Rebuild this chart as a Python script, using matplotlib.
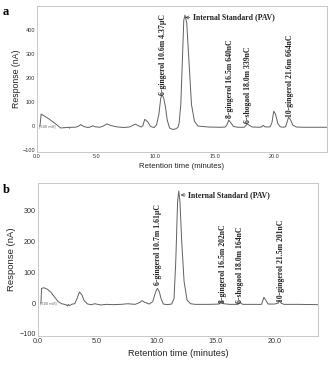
import matplotlib.pyplot as plt

# chromatogram (a): retention time (min) and response (nA)
time_a = [0.25, 0.35, 1.0, 1.6, 2.0, 2.5, 2.7, 2.75, 2.8, 3.2, 3.45, 3.7, 3.95, 4.3, 4.5, 4.7, 4.9,
          5.3, 5.6, 5.9, 6.2, 6.7, 7.3, 7.8, 8.1, 8.3, 8.55, 8.8, 8.95, 9.1, 9.35, 9.6, 9.9,
          10.1, 10.3, 10.45, 10.55, 10.7, 10.85, 11.0, 11.2, 11.45, 11.7, 11.9, 12.0, 12.15,
          12.3, 12.4, 12.5, 12.65, 12.85, 13.05, 13.3, 13.6, 14.5, 15.5, 15.9, 16.05, 16.2,
          16.4, 16.6, 17.0, 17.5, 17.65, 17.75, 17.9, 18.2, 18.8, 19.0, 19.1, 19.25, 19.5,
          19.7, 19.85, 20.0, 20.15, 20.35, 20.55, 20.8, 21.0, 21.15, 21.25, 21.4, 21.6, 21.9,
          22.5, 23.5, 24.5]
resp_a = [0, 50, 30, 8, -8, -6, -5, -9, -5, -5, -2, 6, -2, -6, -4, 1, -3,
          -5, 0, 9, 3, -3, -6, -4, 3, 8, 2, -4, 2, 28, 18, -2, -6,
          5, 50, 115, 130, 118, 80, 25, -8, -14, -12, -6, 10, 90,
          300, 440, 462, 430, 260, 90, 20, 0, -4, -5, -4, 5, 25,
          12, -2, -5, -5, 2, 10, 4, -4, -5, -3, 3, -3, -4,
          -3, 15, 62, 50, 10, -3, -5, -3, 20, 37, 28, 5, -4,
          -5, -5, -5]

# chromatogram (b)
time_b = [0.25, 0.3, 0.5, 0.8, 1.1, 1.4, 1.7, 2.0, 2.35, 2.5, 2.55, 2.65, 2.9, 3.1, 3.3, 3.5,
          3.7, 3.9, 4.2, 4.5, 4.8, 5.3, 5.8, 6.3, 7.0, 7.6, 8.2, 8.6, 8.8, 9.0, 9.4, 9.7, 9.85,
          10.0, 10.1, 10.25, 10.4, 10.6, 10.9, 11.3, 11.5, 11.65, 11.8, 11.9, 12.0, 12.15,
          12.35, 12.6, 12.9, 13.3, 14.5, 15.3, 15.45, 15.55, 15.7, 16.2, 16.9, 17.1, 17.3,
          18.0, 18.9, 19.0, 19.1, 19.25, 19.45, 20.0, 20.3, 20.4, 20.55, 20.8, 22.0, 23.7]
resp_b = [0, 48, 50, 45, 35, 20, 5, -2, -5, -9, -4, -8, -3, -2, 15, 36,
          28, 8, -3, -5, -2, -6, -4, -5, -4, -2, -4, 2, 8, 3, -3, 5, 25,
          42, 48, 38, 15, -3, -5, -3, 15, 140, 330, 365, 330, 200,
          70, 10, -2, -4, -4, -3, 2, 6, -2, -4, -4, 2, -4,
          -4, -4, 8, 19, 10, -3, -3, 0, 8, 0, -4, -4, -5]

# peak labels: (text, x, y) in data units
labels_a = ['6-gingerol 10.6m 4.37\u03bcC', '8-gingerol 16.5m 640nC',
            '6-shogaol 18.0m 339nC', '10-gingerol 21.6m 664nC']
label_x_a = [10.67, 16.3, 17.8, 21.37]
label_y_a = [128, 32, 14, 38]

labels_b = ['6-gingerol 10.7m 1.61\u03bcC', '8-gingerol 16.5m 202nC',
            '6-shogaol 18.0m 164nC', '10-gingerol 21.5m 201nC']
label_x_b = [10.15, 15.6, 17.1, 20.5]
label_y_b = [60, 2, 2, 5]

yticks_a = [-100, 0, 100, 200, 300, 400]
yticks_b = [-100, 0, 100, 200, 300]
xticks = [0, 5, 10, 15, 20]
xtick_labels = ['0.0', '5.0', '10.0', '15.0', '20.0']

pav_text = 'Internal Standard (PAV)'

line_col = '#606060'
frame_col = '#c8c8c8'
serif = ['Liberation Serif', 'DejaVu Serif']
sans = ['Liberation Sans', 'DejaVu Sans']

fig = plt.figure(figsize=(3.35, 3.67), dpi=100)

def draw_panel(ax, t, r, xmax, ylim, yticks, labels, lx, ly, pav_xy, pav_txt,
               tick_fs, xlab_fs, ylab_fs, ylab_pad):
    ax.plot(t, r, color=line_col, lw=0.7)
    ax.set_xlim(0, xmax)
    ax.set_ylim(*ylim)
    ax.set_xticks(xticks)
    ax.set_xticklabels(xtick_labels)
    ax.set_yticks(yticks)
    for s in ax.spines.values():
        s.set_color(frame_col)
        s.set_linewidth(0.7)
    ax.tick_params(length=0, labelsize=tick_fs, pad=1.5, colors='#333333')
    for lbl in ax.get_xticklabels() + ax.get_yticklabels():
        lbl.set_family(sans)
    ax.set_xlabel('Retention time (minutes)', fontsize=xlab_fs, family=sans, labelpad=3, color='#222222')
    ax.set_ylabel('Response (nA)', fontsize=ylab_fs, family=sans, labelpad=ylab_pad, color='#222222')
    for txt, x, y in zip(labels, lx, ly):
        ax.text(x, y, txt, rotation=90, ha='center', va='bottom', fontsize=5.6,
                family=serif, fontweight='bold', color='#222222')
    ax.annotate(pav_text, xy=pav_xy, xytext=pav_txt, fontsize=5.6, family=serif,
                fontweight='bold', va='center', ha='left', color='#222222',
                arrowprops=dict(arrowstyle='->', color='#444444', lw=0.5,
                                shrinkA=0, shrinkB=0))
    ax.text(0.15, 0, '[500 mV]', fontsize=2.5, va='center', ha='left', color='#555555')

ax1 = fig.add_axes([37 / 335, 1 - 152 / 367, 290 / 335, 146 / 367])
draw_panel(ax1, time_a, resp_a, 24.5, (-108, 500), yticks_a, labels_a, label_x_a, label_y_a,
           (12.5, 452), (13.15, 452), 4, 5.6, 6.3, 1)

ax2 = fig.add_axes([38 / 335, 1 - 336 / 367, 280 / 335, 153 / 367])
draw_panel(ax2, time_b, resp_b, 23.67, (-107, 391), yticks_b, labels_b, label_x_b, label_y_b,
           (12.05, 352), (12.7, 352), 5.2, 6.6, 6.8, 2.5)

fig.text(3 / 335, 1 - 15 / 367, 'a', fontsize=9, fontweight='bold', family=serif)
fig.text(3 / 335, 1 - 193 / 367, 'b', fontsize=9, fontweight='bold', family=serif)

fig.savefig('out.png', dpi=100)
